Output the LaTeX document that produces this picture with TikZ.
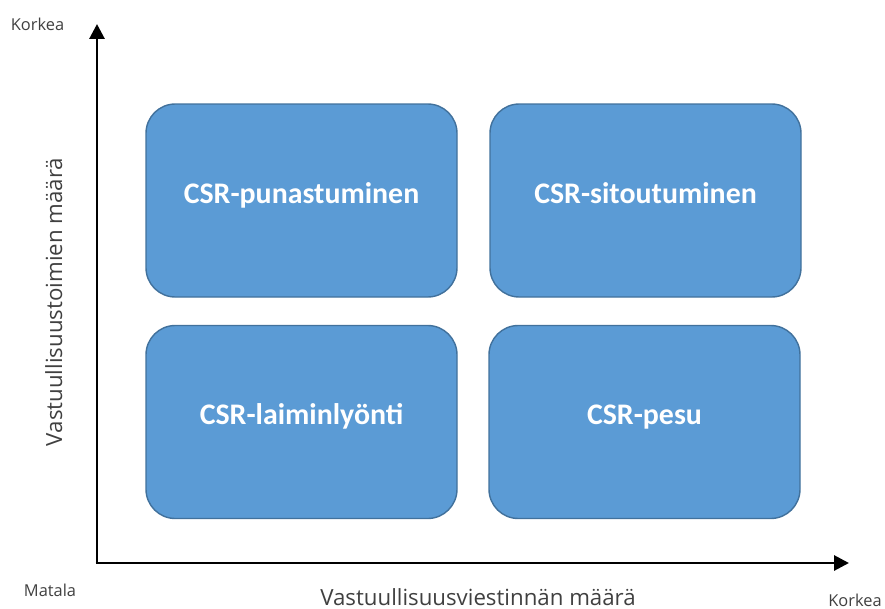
\documentclass[tikz,border=0pt]{standalone}
\usepackage{fontspec}
\setmainfont{Carlito}
\newfontfamily\axisfont{Open Sans}
\usetikzlibrary{arrows.meta}
\begin{document}
\begin{tikzpicture}[x=0.03cm, y=-0.03cm]
    % Define colors
    \definecolor{boxfill}{RGB}{91,155,213}
    \definecolor{boxline}{RGB}{65,113,156}
    \definecolor{labelgray}{RGB}{64,64,64}

    % Define styles
    \tikzstyle{quad} = [rectangle, rounded corners=25pt, draw=boxline, line width=1.2pt, fill=boxfill, minimum width=311*0.03cm, minimum height=193*0.03cm]
    \tikzstyle{quadtext} = [anchor=base, inner sep=0pt, text=white, font=\fontsize{25.5}{29}\selectfont\bfseries]
    \tikzstyle{axis} = [line width=2.5pt, -{Triangle[length=12.7pt, width=12.7pt]}]
    \tikzstyle{endlabel} = [anchor=base, inner sep=0pt, text=labelgray, font=\axisfont\fontsize{14}{16}\selectfont]
    \tikzstyle{axislabel} = [anchor=base, inner sep=0pt, text=labelgray, font=\axisfont\fontsize{19}{22}\selectfont]

    \useasboundingbox (0,0) rectangle (885,609);

    % Axes
    \coordinate (origin) at (97,563);
    \coordinate (ytop) at (97,24);
    \coordinate (xend) at (849,563);
    \draw[axis] (origin) -- (ytop);
    \draw[axis] ([xshift=-1.25pt]origin) -- (xend);

    % Quadrants
    \node[quad] (punastuminen) at (301.5,200.5) {};
    \node[quad] (sitoutuminen) at (645.5,200.5) {};
    \node[quad] (laiminlyonti) at (301.5,422) {};
    \node[quad] (pesu) at (644.5,422) {};
    \node[quadtext] (punastuminentext) at (301.5,203) {CSR-punastuminen};
    \node[quadtext] (sitoutuminentext) at (645.5,203) {CSR-sitoutuminen};
    \node[quadtext] (laiminlyontitext) at (301.5,424) {CSR-laiminlyönti};
    \node[quadtext] (pesutext) at (644.5,424) {CSR-pesu};

    % Axis labels
    \node[axislabel] (xlabel) at (478,605) {Vastuullisuusviestinnän määrä};
    \node[axislabel, rotate=90] (ylabel) at (62,302) {Vastuullisuustoimien määrä};
    \node[endlabel] (yhigh) at (37.5,30) {Korkea};
    \node[endlabel] (low) at (50,596) {Matala};
    \node[endlabel] (xhigh) at (855,606) {Korkea};
\end{tikzpicture}
\end{document}
